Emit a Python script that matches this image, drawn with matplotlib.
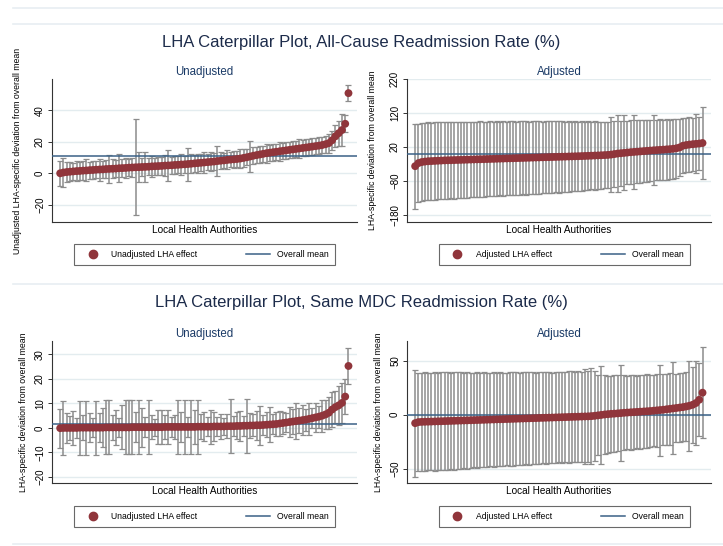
import matplotlib
matplotlib.use("Agg")
import matplotlib.pyplot as plt
from matplotlib.lines import Line2D
import numpy as np

plt.rcParams['font.family'] = ['Liberation Sans', 'DejaVu Sans']

# ---- All-cause readmission, unadjusted (sorted LHA effects and CI half-widths)
allc_unadj = [0.0, 0.5, 0.8, 1.0, 1.2, 1.4, 1.5, 1.7, 1.8, 2.0,
              2.1, 2.3, 2.4, 2.5, 2.7, 2.8, 2.9, 3.0, 3.2, 3.3,
              3.4, 3.6, 3.7, 3.8, 3.9, 4.0, 4.1, 4.2, 4.4, 4.5,
              4.6, 4.7, 4.9, 5.0, 5.1, 5.3, 5.4, 5.6, 5.7, 5.9,
              6.1, 6.3, 6.5, 6.7, 6.9, 7.1, 7.3, 7.5, 7.8, 8.0,
              8.2, 8.5, 8.7, 8.9, 9.1, 9.4, 9.8, 10.2, 10.7, 11.2,
              11.6, 12.0, 12.4, 12.8, 13.1, 13.4, 13.7, 14.0, 14.3, 14.6,
              14.9, 15.2, 15.5, 15.8, 16.1, 16.4, 16.7, 17.0, 17.3, 17.6,
              18.0, 18.5, 19.2, 21.0, 23.5, 25.5, 27.5, 31.5, 51.0]
allc_unadj_err = [8, 9, 6.5, 6, 5.5, 6.5, 5.5, 6, 7, 5.5,
                  6, 5.5, 7, 5.5, 6, 9, 6, 5.5, 9, 5.5,
                  6.5, 5.5, 6, 30.5, 9.5, 6, 9.5, 5.5, 6.5, 5.5,
                  6, 5.5, 6.5, 10, 5.5, 6, 5.5, 6.5, 5.5, 10.5,
                  6, 5.5, 6, 5.5, 6.5, 5, 6, 5.5, 9.5, 5.5,
                  5, 6, 5, 5.5, 5, 6, 5.5, 5, 10, 5.5,
                  5, 5.5, 5, 6, 5, 5.5, 5, 6, 5, 5.5,
                  5, 5.5, 5, 6, 5, 5.5, 5, 5.5, 5, 5.5,
                  5, 5.5, 6, 6, 7, 8, 10, 5.5, 5]
allc_unadj_mean = 10.7

# ---- All-cause readmission, adjusted
allc_adj = [-36, -27, -24, -22.5, -21.5, -21, -20.5, -20, -19.5, -19,
            -18.7, -18.4, -18.1, -17.8, -17.5, -17.2, -16.9, -16.6, -16.3, -16.0,
            -15.7, -15.4, -15.1, -14.8, -14.5, -14.2, -13.9, -13.6, -13.3, -13.0,
            -12.7, -12.4, -12.1, -11.8, -11.5, -11.2, -10.9, -10.6, -10.3, -10.0,
            -9.7, -9.4, -9.1, -8.8, -8.5, -8.2, -7.9, -7.6, -7.3, -7.0,
            -6.7, -6.4, -6.0, -5.6, -5.2, -4.8, -4.4, -4.0, -3.5, -3.0,
            -2.0, -0.5, 1.0, 2.0, 3.0, 4.0, 5.0, 5.8, 6.6, 7.4,
            8.2, 9.0, 9.8, 10.5, 11.2, 11.9, 12.6, 13.3, 14.0, 15.0,
            16.5, 19.0, 24.0, 26.0, 27.5, 28.5, 29.5, 30.5, 32.0]
allc_adj_err = [125, 115, 114, 114, 115, 113, 114, 113, 114, 112,
                113, 112, 113, 111, 112, 111, 112, 110, 111, 110,
                111, 110, 109, 110, 109, 110, 108, 109, 108, 109,
                108, 107, 108, 107, 108, 106, 107, 106, 107, 105,
                106, 105, 106, 104, 105, 104, 103, 104, 102, 103,
                101, 102, 100, 101, 99, 100, 98, 99, 97, 98,
                110, 96, 112, 95, 110, 93, 94, 108, 92, 93,
                91, 92, 90, 103, 89, 90, 88, 89, 87, 88,
                86, 84, 80, 79, 80, 78, 87, 79, 105]
allc_adj_mean = 1.0

# ---- Same MDC readmission, unadjusted
mdc_unadj = [-0.1, 0.0, 0.0, 0.0, 0.0, 0.0, 0.1, 0.1, 0.1, 0.1,
             0.1, 0.1, 0.1, 0.1, 0.2, 0.2, 0.2, 0.2, 0.2, 0.2,
             0.2, 0.2, 0.3, 0.3, 0.3, 0.3, 0.3, 0.3, 0.3, 0.3,
             0.3, 0.3, 0.4, 0.4, 0.4, 0.4, 0.4, 0.4, 0.4, 0.4,
             0.4, 0.4, 0.5, 0.5, 0.5, 0.5, 0.5, 0.6, 0.6, 0.6,
             0.6, 0.7, 0.7, 0.7, 0.8, 0.8, 0.9, 0.9, 1.0, 1.0,
             1.1, 1.1, 1.2, 1.3, 1.4, 1.5, 1.6, 1.8, 2.0, 2.2,
             2.4, 2.6, 2.8, 3.0, 3.2, 3.4, 3.7, 4.0, 4.3, 4.6,
             5.0, 5.5, 6.2, 7.5, 8.5, 9.2, 10.2, 12.8, 25.3]
mdc_unadj_err = [8, 11, 6, 5, 7, 4, 11, 5, 11, 6,
                 4, 11, 6, 8, 11, 11, 5, 7, 4, 9,
                 11, 11, 11, 6, 11, 8, 4, 11, 5, 3.5,
                 7, 7, 5, 7, 4, 5, 11, 6, 11, 4,
                 11, 7, 11, 5, 6, 4, 7, 6, 4, 5,
                 3.5, 5, 11, 4, 5.5, 6, 4, 11, 5, 4.5,
                 6, 8, 4, 5, 7, 4, 5, 5, 4.5, 4,
                 6, 5, 7.5, 5, 6, 4.5, 6.5, 4, 6, 4.5,
                 6.5, 6, 6.5, 7, 6.5, 8, 8, 7, 7.5]
mdc_unadj_mean = 1.6

# ---- Same MDC readmission, adjusted
mdc_adj = [-7.8, -6.8, -6.6, -6.5, -6.4, -6.3, -6.2, -6.1, -6.0, -5.9,
           -5.8, -5.7, -5.6, -5.5, -5.4, -5.3, -5.2, -5.1, -5.0, -4.9,
           -4.8, -4.7, -4.6, -4.5, -4.4, -4.3, -4.2, -4.1, -4.0, -3.9,
           -3.8, -3.7, -3.6, -3.5, -3.4, -3.3, -3.2, -3.1, -3.0, -2.9,
           -2.8, -2.7, -2.6, -2.5, -2.4, -2.3, -2.2, -2.1, -2.0, -1.9,
           -1.8, -1.7, -1.6, -1.5, -1.3, -1.0, -0.6, -0.2, 0.2, 0.5,
           0.8, 1.0, 1.2, 1.5, 1.8, 2.0, 2.2, 2.4, 2.6, 2.8,
           3.0, 3.2, 3.4, 3.7, 4.0, 4.3, 4.6, 5.0, 5.4, 5.8,
           6.2, 6.6, 7.0, 7.6, 8.3, 9.2, 10.8, 13.8, 20.3]
mdc_adj_err = [49.5, 45.5, 45, 45.5, 44.5, 45, 45.5, 44.5, 45, 45.5,
               45, 44.5, 45, 44.5, 45, 44, 44.5, 44, 43.5, 44,
               43.5, 44, 43.5, 43, 43.5, 43, 43.5, 43, 42.5, 43,
               43.5, 43, 42.5, 43, 42.5, 43, 42.5, 42, 42.5, 42,
               42.5, 42, 41.5, 42, 41.5, 42, 41.5, 42.5, 42, 41.5,
               42, 41.5, 43.5, 42, 44, 41.5, 37, 45, 36, 35.5,
               35, 35.5, 35, 44, 34.5, 34, 34.5, 34, 33.5, 34,
               33.5, 34, 33.5, 33, 33.5, 42, 33, 32.5, 33, 42.5,
               31.5, 32, 31.5, 32, 41.5, 35, 39, 33.5, 42]
mdc_adj_mean = 0.0

RED = '#90353B'
BLUE = '#3a6186'
GREY = '#8c8c8c'
NAVY = '#1a3a66'
GRID = '#e3ecef'
W, H = 723, 546

fig = plt.figure(figsize=(W / 100, H / 100), dpi=100)


def px_rect(x0, y0, x1, y1):
    return [x0 / W, 1 - y1 / H, (x1 - x0) / W, (y1 - y0) / H]


def caterpillar(rect, est, err, mean, ylim, yticks, ylab, ylab_x, sub, leg_label, leg_y, leg_x=0.5):
    ax = fig.add_axes(rect)
    x = np.arange(len(est))
    ax.errorbar(x, est, yerr=err, fmt='none', ecolor=GREY, elinewidth=1.1,
                capsize=2.2, capthick=0.9, zorder=2)
    ax.axhline(mean, color=BLUE, lw=1.1, zorder=3)
    ax.scatter(x, est, s=32, color=RED, edgecolors='none', zorder=4)
    ax.set_xlim(-2.5, 90.6)
    ax.set_ylim(*ylim)
    ax.set_yticks(yticks)
    ax.set_xticks([])
    ax.yaxis.grid(True, color=GRID, lw=1.0)
    ax.set_axisbelow(True)
    for s in ('top', 'right'):
        ax.spines[s].set_visible(False)
    for s in ('left', 'bottom'):
        ax.spines[s].set_color('#333333')
        ax.spines[s].set_linewidth(0.8)
    ax.tick_params(axis='y', labelsize=7, length=3, width=0.7, color='#333333',
                   labelrotation=90, pad=2)
    for t in ax.get_yticklabels():
        t.set_va('center')
    ax.set_ylabel(ylab, fontsize=6.3)
    ax.yaxis.set_label_coords(ylab_x, 0.5)
    ax.set_xlabel('Local Health Authorities', fontsize=7.2, labelpad=2)
    ax.set_title(sub, fontsize=8.3, color=NAVY, pad=3)
    handles = [Line2D([], [], marker='o', ls='none', color=RED, markersize=6),
               Line2D([], [], color=BLUE, lw=1.1)]
    leg = ax.legend(handles, [leg_label, 'Overall mean'], loc='upper center',
                    bbox_to_anchor=(leg_x, leg_y), ncol=2, fontsize=6.2,
                    frameon=True, fancybox=False, edgecolor='#444444',
                    handlelength=2.8, columnspacing=5.6, borderpad=0.7,
                    handletextpad=0.8)
    leg.get_frame().set_linewidth(0.8)
    return ax


caterpillar(px_rect(52, 79, 357, 222), allc_unadj, allc_unadj_err, allc_unadj_mean,
            (-31, 60), [-20, 0, 20, 40],
            'Unadjusted LHA-specific deviation from overall mean', -0.098,
            'Unadjusted', 'Unadjusted LHA effect', -0.126)
caterpillar(px_rect(407, 79, 711, 222), allc_adj, allc_adj_err, allc_adj_mean,
            (-200, 220), [-180, -80, 20, 120, 220],
            'LHA-specific deviation from overall mean', -0.099,
            'Adjusted', 'Adjusted LHA effect', -0.126, 0.518)
caterpillar(px_rect(52, 341, 357, 483), mdc_unadj, mdc_unadj_err, mdc_unadj_mean,
            (-22.5, 35.5), [-20, -10, 0, 10, 20, 30],
            'LHA-specific deviation from overall mean', -0.079,
            'Unadjusted', 'Unadjusted LHA effect', -0.134)
caterpillar(px_rect(407, 341, 711, 483), mdc_adj, mdc_adj_err, mdc_adj_mean,
            (-63, 68), [-50, 0, 50],
            'LHA-specific deviation from overall mean', -0.079,
            'Adjusted', 'Adjusted LHA effect', -0.134, 0.518)

fig.text(0.5, 1 - 42 / H, 'LHA Caterpillar Plot, All-Cause Readmission Rate (%)',
         ha='center', va='center', fontsize=12, color='#1c2b4a')
fig.text(0.5, 1 - 302 / H, 'LHA Caterpillar Plot, Same MDC Readmission Rate (%)',
         ha='center', va='center', fontsize=12, color='#1c2b4a')

for ypx in (8, 24, 284, 544):
    fig.add_artist(Line2D([13 / W, 1], [1 - ypx / H, 1 - ypx / H],
                          transform=fig.transFigure, color='#e8eef2', lw=1.2))

fig.savefig('out.png', dpi=100, facecolor='white')
